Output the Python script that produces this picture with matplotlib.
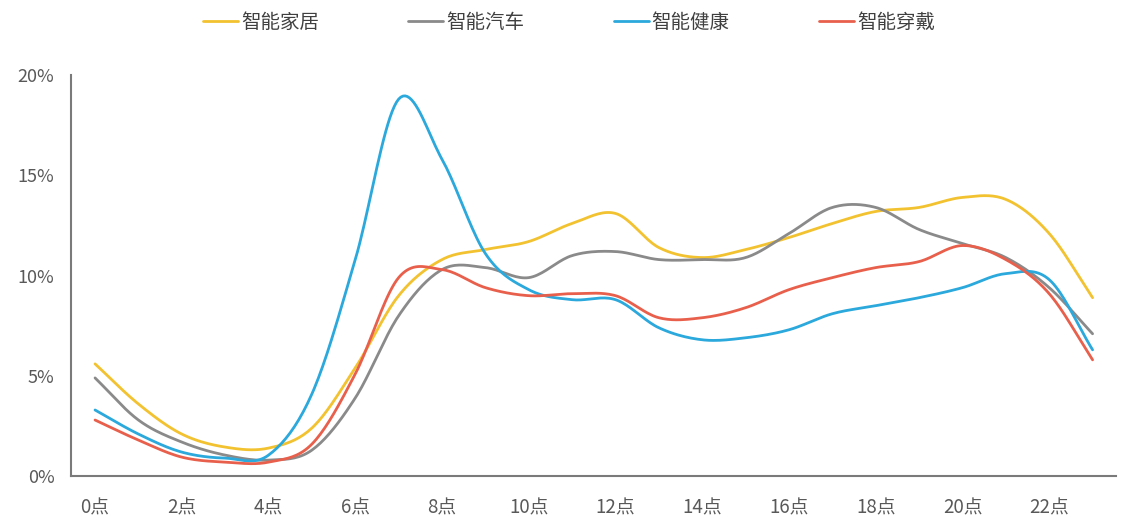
import numpy as np
import matplotlib
matplotlib.use("Agg")
import matplotlib.pyplot as plt

plt.rcParams['font.family'] = ['Noto Sans CJK SC', 'DejaVu Sans']

hours = np.arange(24)
xtick_hours = list(range(0, 24, 2))
xtick_labels = [f"{h}点" for h in xtick_hours]
ytick_values = [0, 5, 10, 15, 20]
ytick_labels = [f"{v}%" for v in ytick_values]

series_names = ["智能家居", "智能汽车", "智能健康", "智能穿戴"]
home = [5.6, 3.6, 2.1, 1.45, 1.4, 2.4, 5.4, 9.0, 10.8, 11.3, 11.7, 12.6,
        13.1, 11.4, 10.9, 11.3, 11.9, 12.6, 13.2, 13.4, 13.9, 13.8, 12.1, 8.9]
car = [4.9, 2.8, 1.7, 1.05, 0.8, 1.3, 3.9, 8.0, 10.3, 10.4, 9.9, 11.0,
       11.2, 10.8, 10.8, 10.9, 12.1, 13.4, 13.4, 12.3, 11.6, 10.9, 9.4, 7.1]
health = [3.3, 2.1, 1.2, 0.9, 1.05, 4.1, 10.8, 18.8, 15.8, 11.1, 9.3, 8.8,
          8.8, 7.4, 6.8, 6.9, 7.3, 8.1, 8.5, 8.9, 9.4, 10.1, 9.8, 6.3]
wear = [2.8, 1.8, 0.95, 0.7, 0.7, 1.6, 5.1, 9.9, 10.3, 9.4, 9.0, 9.1,
        9.0, 7.9, 7.9, 8.4, 9.3, 9.9, 10.4, 10.7, 11.5, 10.8, 9.1, 5.8]
colors = ["#F2C230", "#8A8A8A", "#2BA8DC", "#E8604C"]


def smooth(x, y, n=20):
    # Catmull-Rom spline through the points, like Excel's smoothed lines
    x = np.asarray(x, float)
    y = np.asarray(y, float)
    px = np.concatenate([[2 * x[0] - x[1]], x, [2 * x[-1] - x[-2]]])
    py = np.concatenate([[2 * y[0] - y[1]], y, [2 * y[-1] - y[-2]]])
    xs, ys = [], []
    t = np.linspace(0, 1, n, endpoint=False)
    for i in range(1, len(px) - 2):
        for p, out in ((px, xs), (py, ys)):
            p0, p1, p2, p3 = p[i - 1], p[i], p[i + 1], p[i + 2]
            out.append(0.5 * (2 * p1 + (-p0 + p2) * t
                              + (2 * p0 - 5 * p1 + 4 * p2 - p3) * t ** 2
                              + (-p0 + 3 * p1 - 3 * p2 + p3) * t ** 3))
    xs.append([x[-1]])
    ys.append([y[-1]])
    return np.concatenate(xs), np.concatenate(ys)


fig = plt.figure(figsize=(11.3, 5.25), dpi=100)
ax = fig.add_axes([0.063, 0.093, 0.925, 0.764])

for name, vals, c in zip(series_names, [home, car, health, wear], colors):
    sx, sy = smooth(hours, vals)
    ax.plot(sx, sy, color=c, lw=2.0, label=name, solid_capstyle="round")

ax.set_xlim(-0.55, 23.55)
ax.set_ylim(0, 20)
ax.set_xticks(xtick_hours)
ax.set_xticklabels(xtick_labels)
ax.set_yticks(ytick_values)
ax.set_yticklabels(ytick_labels)
ax.tick_params(length=0, colors="#595959")
ax.tick_params(axis="x", labelsize=13.5, pad=15)
ax.tick_params(axis="y", labelsize=13, pad=12)
for s in ["top", "right"]:
    ax.spines[s].set_visible(False)
for s in ["left", "bottom"]:
    ax.spines[s].set_color("#7a7a7a")
    ax.spines[s].set_linewidth(1.5)

fig.legend(loc="upper center", bbox_to_anchor=(0.5035, 1.01), ncol=4,
           frameon=False, fontsize=14, handlelength=1.8, handletextpad=0.15,
           columnspacing=4.6, labelcolor="#404040")

fig.savefig("out.png", dpi=100)
plt.close(fig)
